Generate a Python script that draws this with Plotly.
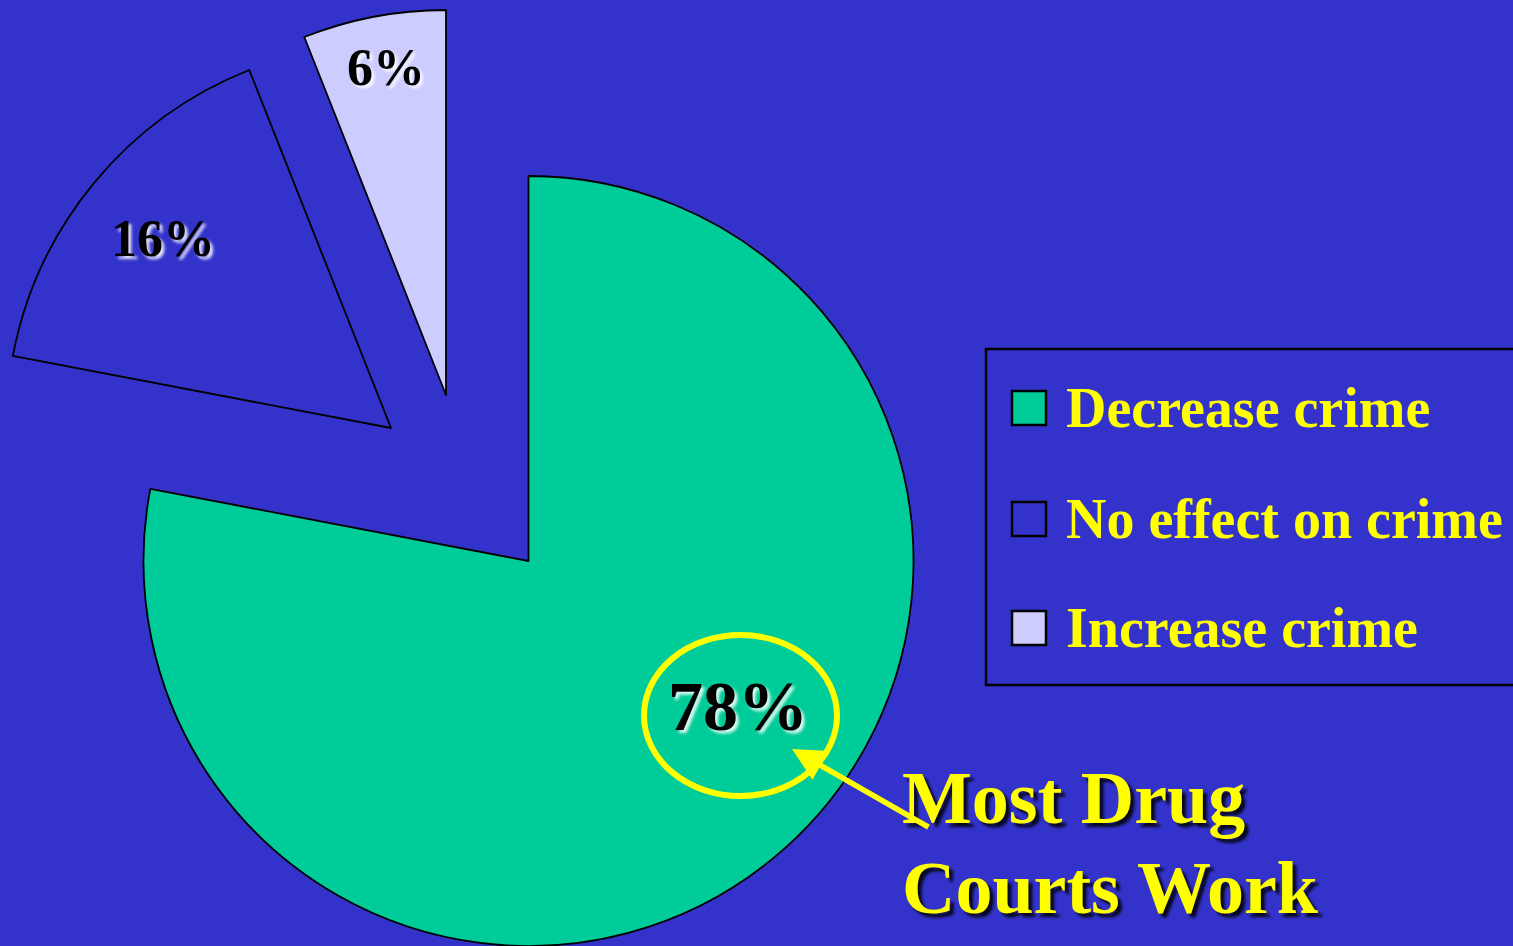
import plotly.graph_objects as go

# ---- data ----
categories = ["Decrease crime", "No effect on crime", "Increase crime"]
values = [78, 16, 6]
colors = ["#00CC99", "#3333CC", "#CCCCFF"]
callout_lines = ["Most Drug", "Courts Work"]

# ---- layout helpers (pixel -> paper) ----
W, H = 1513, 946
BG = "#3333CC"
R = 385


def px(x):
    return x / W


def py(y):
    return 1 - y / H


def domain(cx, cy, r=R):
    return dict(x=[px(cx - r), px(cx + r)], y=[py(cy + r), py(cy - r)])


# slice centres (exploded slices drawn as separate pies)
centres = [(528.5, 561), (391, 428), (446, 395)]

fig = go.Figure()
for i, (cx, cy) in enumerate(centres):
    fig.add_trace(go.Pie(
        labels=categories,
        values=values,
        sort=False,
        direction="clockwise",
        rotation=0,
        domain=domain(cx, cy),
        textinfo="none",
        hoverinfo="skip",
        showlegend=False,
        marker=dict(
            colors=[colors[j] if j == i else "rgba(0,0,0,0)" for j in range(3)],
            line=dict(color="black",
                      width=[1.8 if j == i else 0 for j in range(3)]),
        ),
    ))

shapes = []
annotations = []

# percentage labels
label_pos = [(738, 706, 70), (163, 239, 52), (386, 67, 52)]
for v, (lx, ly, fs) in zip(values, label_pos):
    annotations.append(dict(
        x=px(lx), y=py(ly), xref="paper", yref="paper",
        text=f"{v}%", showarrow=False, xanchor="center", yanchor="middle",
        font=dict(family="Liberation Serif", size=fs, color="black",
                  weight="bold", shadow="3px 3px 3px rgba(255,255,255,0.85)"),
    ))

# legend box
shapes.append(dict(type="rect", xref="paper", yref="paper",
                   x0=px(986), x1=1.02, y0=py(685), y1=py(349),
                   line=dict(color="black", width=2.5), fillcolor=BG, layer="above"))
rows = [408, 519, 628]
for cat, col, ry in zip(categories, colors, rows):
    shapes.append(dict(type="rect", xref="paper", yref="paper",
                       x0=px(1012), x1=px(1046), y0=py(ry + 17), y1=py(ry - 17),
                       line=dict(color="black", width=2.5), fillcolor=col, layer="above"))
    annotations.append(dict(
        x=px(1064), y=py(ry), xref="paper", yref="paper",
        text=cat, showarrow=False, xanchor="left", yanchor="middle",
        font=dict(family="Liberation Serif", size=56, color="#FFFF00", weight="bold"),
    ))

# yellow ellipse around 78%
shapes.append(dict(type="circle", xref="paper", yref="paper",
                   x0=px(644), x1=px(837), y0=py(796), y1=py(635),
                   line=dict(color="#FFFF00", width=6), layer="above"))

# callout text
for line, cy in zip(callout_lines, [798, 888]):
    annotations.append(dict(
        x=px(900), y=py(cy), xref="paper", yref="paper",
        text=line, showarrow=False, xanchor="left", yanchor="middle",
        font=dict(family="Liberation Serif", size=74, color="#FFFF00",
                  weight="bold", shadow="4px 4px 3px rgba(0,0,0,0.85)"),
    ))

# arrow
annotations.append(dict(
    x=px(792), y=py(749), xref="paper", yref="paper",
    ax=138, ay=79, axref="pixel", ayref="pixel",
    text="", showarrow=True, arrowhead=2, arrowsize=1.2, arrowwidth=5.5,
    arrowcolor="#FFFF00", standoff=0, startstandoff=0,
))

fig.update_layout(
    width=W, height=H,
    margin=dict(l=0, r=0, t=0, b=0),
    paper_bgcolor=BG, plot_bgcolor=BG,
    shapes=shapes, annotations=annotations,
    showlegend=False,
)

fig.write_html("out.html", config={"displayModeBar": False},
               post_script="document.body.style.margin='0px';document.body.style.overflow='hidden';")
